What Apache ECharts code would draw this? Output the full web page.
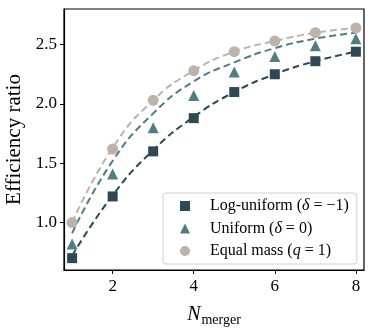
<!DOCTYPE html>
<html>
<head>
<meta charset="utf-8">
<script src="https://cdn.jsdelivr.net/npm/echarts@6/dist/echarts.min.js"></script>
<style>
  html, body { margin: 0; padding: 0; background: #fff; }
  #chart { width: 374px; height: 330px; }
</style>
</head>
<body>
<div id="chart"></div>
<script>
var nMerger = [1, 2, 3, 4, 5, 6, 7, 8];

// measured ratios (markers)
var logUniform = [0.70, 1.22, 1.60, 1.88, 2.10, 2.25, 2.36, 2.44];
var uniform = [0.82, 1.41, 1.80, 2.07, 2.27, 2.40, 2.49, 2.55];
var equalMass = [1.00, 1.62, 2.03, 2.28, 2.44, 2.53, 2.60, 2.64];

// fitted curves (dashed)
var logUniformFit = [0.72, 1.23, 1.61, 1.89, 2.10, 2.25, 2.36, 2.44];
var uniformFit = [0.91, 1.52, 1.92, 2.19, 2.35, 2.47, 2.55, 2.60];
var equalMassFit = [1.00, 1.63, 2.03, 2.28, 2.44, 2.53, 2.60, 2.64];

var xTicks = [2, 4, 6, 8];
var yTicks = [1.0, 1.5, 2.0, 2.5];

var names = ['Log-uniform', 'Uniform', 'Equal mass'];
var colors = ['#2e4955', '#4f7d85', '#bdb3a9'];
var serif = 'Liberation Serif';

var myChart = echarts.init(document.getElementById('chart'));

function pairs(ys) {
    return nMerger.map(function (x, i) {
        return [x, ys[i]];
    });
}

function fitSeries(name, ys, color) {
    return {
        name: name + ' fit',
        type: 'line',
        data: pairs(ys),
        smooth: true,
        showSymbol: false,
        symbol: 'none',
        z: 2,
        lineStyle: {color: color, width: 2, type: [7, 4]}
    };
}

function markerSeries(name, ys, color, symbol, size) {
    return {
        name: name,
        type: 'scatter',
        data: pairs(ys),
        symbol: symbol,
        symbolSize: size,
        z: 3,
        itemStyle: {color: color, opacity: 1}
    };
}

var legendText = {
    'Log-uniform': 'Log-uniform ({i|δ} = −1)',
    'Uniform': 'Uniform ({i|δ} = 0)',
    'Equal mass': 'Equal mass ({i|q} = 1)'
};

myChart.setOption({
    backgroundColor: '#fff',
    animation: false,
    grid: {
        left: 64, right: 10, top: 9, bottom: 60,
        outerBoundsMode: 'none',
        containLabel: false,
        show: true, borderColor: '#000', borderWidth: 1.2
    },
    legend: {
        orient: 'vertical',
        left: 163,
        top: 193,
        padding: [5, 8, 5, 17],
        itemGap: 6.5,
        itemWidth: 10,
        itemHeight: 10,
        borderColor: '#d0d0d0',
        borderWidth: 1,
        borderRadius: 3,
        backgroundColor: 'rgba(255,255,255,0.85)',
        data: [
            {name: 'Log-uniform', icon: 'rect'},
            {name: 'Uniform', icon: 'triangle'},
            {name: 'Equal mass', icon: 'circle'}
        ],
        formatter: function (name) {
            return legendText[name];
        },
        textStyle: {
            fontFamily: serif,
            fontSize: 16,
            lineHeight: 16,
            color: '#000',
            padding: [0, 0, 0, 15],
            rich: {
                i: {fontFamily: serif, fontStyle: 'italic', fontSize: 16, color: '#000'}
            }
        }
    },
    xAxis: {
        type: 'value',
        min: 0.8,
        max: 8.2,
        name: '{n|N}{s|merger}',
        nameLocation: 'middle',
        nameGap: 32,
        nameTextStyle: {
            rich: {
                n: {fontFamily: serif, fontStyle: 'italic', fontSize: 20, color: '#000'},
                s: {fontFamily: serif, fontSize: 14, color: '#000', padding: [11, 0, 0, 1]}
            }
        },
        splitLine: {show: false},
        axisLine: {show: true, lineStyle: {color: '#000', width: 1.2}},
        axisTick: {
            show: true, inside: false, length: 4,
            customValues: xTicks,
            lineStyle: {color: '#000', width: 1}
        },
        axisLabel: {
            customValues: xTicks,
            margin: 8,
            fontFamily: serif,
            fontSize: 17,
            color: '#000'
        }
    },
    yAxis: {
        type: 'value',
        min: 0.6,
        max: 2.8,
        name: 'Efficiency ratio',
        nameLocation: 'middle',
        nameGap: 35,
        nameTextStyle: {fontFamily: serif, fontSize: 21, color: '#000'},
        splitLine: {show: false},
        axisLine: {show: true, lineStyle: {color: '#000', width: 1.2}},
        axisTick: {
            show: true, inside: false, length: 4,
            customValues: yTicks,
            lineStyle: {color: '#000', width: 1}
        },
        axisLabel: {
            customValues: yTicks,
            margin: 7,
            fontFamily: serif,
            fontSize: 17,
            color: '#000',
            formatter: function (v) { return v.toFixed(1); }
        }
    },
    series: [
        fitSeries(names[0], logUniformFit, colors[0]),
        fitSeries(names[1], uniformFit, colors[1]),
        fitSeries(names[2], equalMassFit, colors[2]),
        markerSeries(names[0], logUniform, colors[0], 'rect', 10),
        markerSeries(names[1], uniform, colors[1], 'triangle', 11),
        markerSeries(names[2], equalMass, colors[2], 'circle', 11)
    ]
});
</script>
</body>
</html>
